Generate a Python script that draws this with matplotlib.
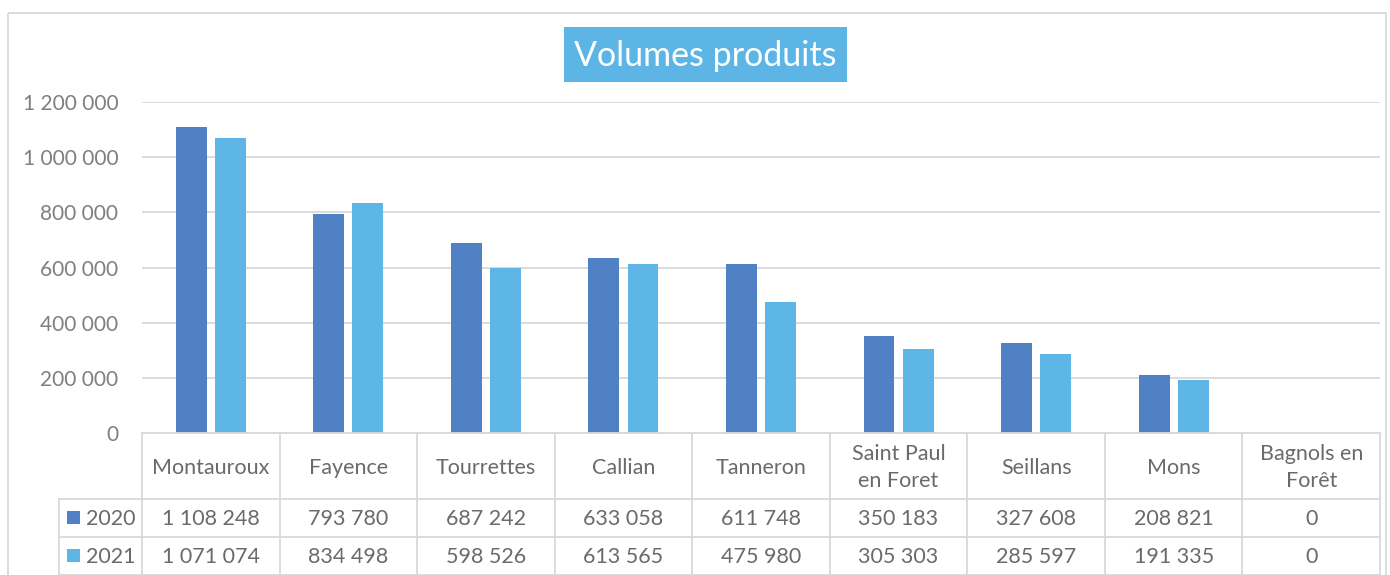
import matplotlib.pyplot as plt
import numpy as np
from matplotlib.patches import Rectangle

communes = ["Montauroux", "Fayence", "Tourrettes", "Callian", "Tanneron",
            "Saint Paul\nen Foret", "Seillans", "Mons", "Bagnols en\nForêt"]
vol_2020 = [1108248, 793780, 687242, 633058, 611748, 350183, 327608, 208821, 0]
vol_2021 = [1071074, 834498, 598526, 613565, 475980, 305303, 285597, 191335, 0]
years = ["2020", "2021"]
colors = ["#4F81C4", "#5DB6E6"]
yticks = np.arange(0, 1200001, 200000)


def fmt(v):
    return f"{v:,}".replace(",", " ")


plt.rcParams['font.family'] = ['Lato', 'DejaVu Sans']
W, H = 1390, 575
grid_c = "#D9D9D9"
txt_c = "#7F7F7F"
fs = 15.5

fig = plt.figure(figsize=(W / 100, H / 100), dpi=100)

# plot area
x0, x1, ytop, ybot = 142, 1380, 102, 433
ax = fig.add_axes([x0 / W, (H - ybot) / H, (x1 - x0) / W, (ybot - ytop) / H])
x = np.arange(len(communes))
bw, off = 0.225, 0.142
ax.bar(x - off, vol_2020, bw, color=colors[0], zorder=3)
ax.bar(x + off, vol_2021, bw, color=colors[1], zorder=3)
ax.set_xlim(-0.5, len(communes) - 0.5)
ax.set_ylim(0, 1200000)
ax.set_yticks(yticks)
ax.set_yticklabels([fmt(v) for v in yticks])
ax.set_xticks([])
ax.tick_params(axis='y', length=0, pad=17, labelsize=15, labelcolor=txt_c)
ax.grid(axis='y', color=grid_c, lw=1.3, zorder=0)
for s in ax.spines.values():
    s.set_visible(False)

# overlay for frame, title box + data table
ov = fig.add_axes([0, 0, 1, 1])
ov.set_xlim(0, W)
ov.set_ylim(H, 0)
ov.axis('off')
ov.add_patch(Rectangle((7.5, 12.5), 1378, 700, fc='none', ec=grid_c, lw=1.3, clip_on=False))

ov.add_patch(Rectangle((564, 27), 283, 55, fc="#5DB5E6", ec='none'))
ov.text(705.5, 56, "Volumes produits", ha='center', va='center',
        fontsize=24.5, color='white')

n = len(communes)
cw = (x1 - x0) / n
rows = [433, 499, 537, 575]
lx = 59
kw = dict(color=grid_c, lw=1.3)
ov.plot([x0, x1], [rows[0], rows[0]], **kw)
for r in rows[1:]:
    ov.plot([lx, x1], [r, r], **kw)
for i in range(n + 1):
    ov.plot([x0 + i * cw] * 2, [rows[0], H + 5], **kw)
ov.plot([lx, lx], [rows[1], H + 5], **kw)

tcol = "#6A6A6A"
for i, name in enumerate(communes):
    cx = x0 + (i + 0.5) * cw
    ov.text(cx, (rows[0] + rows[1]) / 2 + 1.5, name, ha='center', va='center',
            fontsize=fs, color=tcol, linespacing=1.45)
    for j, vals in enumerate([vol_2020, vol_2021]):
        ov.text(cx, (rows[j + 1] + rows[j + 2]) / 2 + 1, fmt(vals[i]), ha='center',
                va='center', fontsize=fs, color=tcol)

for j, yr in enumerate(years):
    cy = (rows[j + 1] + rows[j + 2]) / 2
    ov.add_patch(Rectangle((67, cy - 7), 13, 13, fc=colors[j], ec='none'))
    ov.text(86, cy + 1, yr, ha='left', va='center', fontsize=fs, color=tcol)

fig.savefig("out.png", dpi=100)
